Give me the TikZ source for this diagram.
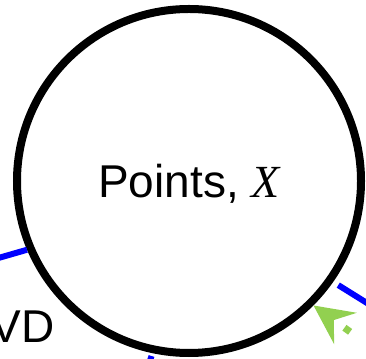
\documentclass[tikz,border=0pt]{standalone}
\usepackage{fontspec}
\setmainfont{Liberation Sans}
\newfontfamily\varfont{Liberation Serif}
\usetikzlibrary{arrows.meta,positioning,calc}
\definecolor{inkDark}{HTML}{000000}
\definecolor{linkBlue}{HTML}{0000FF}
\definecolor{hintGreen}{HTML}{92D050}
\newcommand{\setvar}[1]{{\varfont\itshape #1}}

\begin{document}
\begin{tikzpicture}[
  x=1pt, y=1pt,
  font=\fontsize{46}{55}\selectfont,
  setnode/.style={
    circle, draw=inkDark, line width=8pt, minimum size=344pt,
    inner sep=0pt, text=inkDark, text depth=0pt},
  link/.style={line width=6pt, draw=linkBlue},
  hint/.style={{Stealth[length=39pt,width=38pt,inset=14pt]}-, line width=7pt,
               draw=hintGreen, dash pattern=on 7pt off 25pt, dash phase=16.5pt},
  lbl/.style={text=inkDark, inner sep=0pt},
]
\clip (0,0) rectangle (366,358);

% =============================== nodes =====================================
\node[setnode] at (189,177) (pts) {Points, \setvar{X}};

\node[lbl, anchor=base west] at (-9.3,15) (vd) {VD};

% free ends, all outside the frame
\coordinate (leftEnd)  at (-50,86);
\coordinate (rightEnd) at (420,22);
\coordinate (lowEnd)   at (135,-50);
\coordinate (hintSrc)  at (435,-35);

% =============================== flows =====================================
% blue links leaving the point set
\draw[link] (leftEnd) -- (pts.203);
\draw[link, shorten <=3pt] (pts.258) -- (lowEnd);
\draw[link, shorten <=6pt] (pts.-35.6) -- (rightEnd);

% green dashed pointer onto the circle
\draw[hint] (pts.-45) -- (hintSrc);

\end{tikzpicture}
\end{document}
